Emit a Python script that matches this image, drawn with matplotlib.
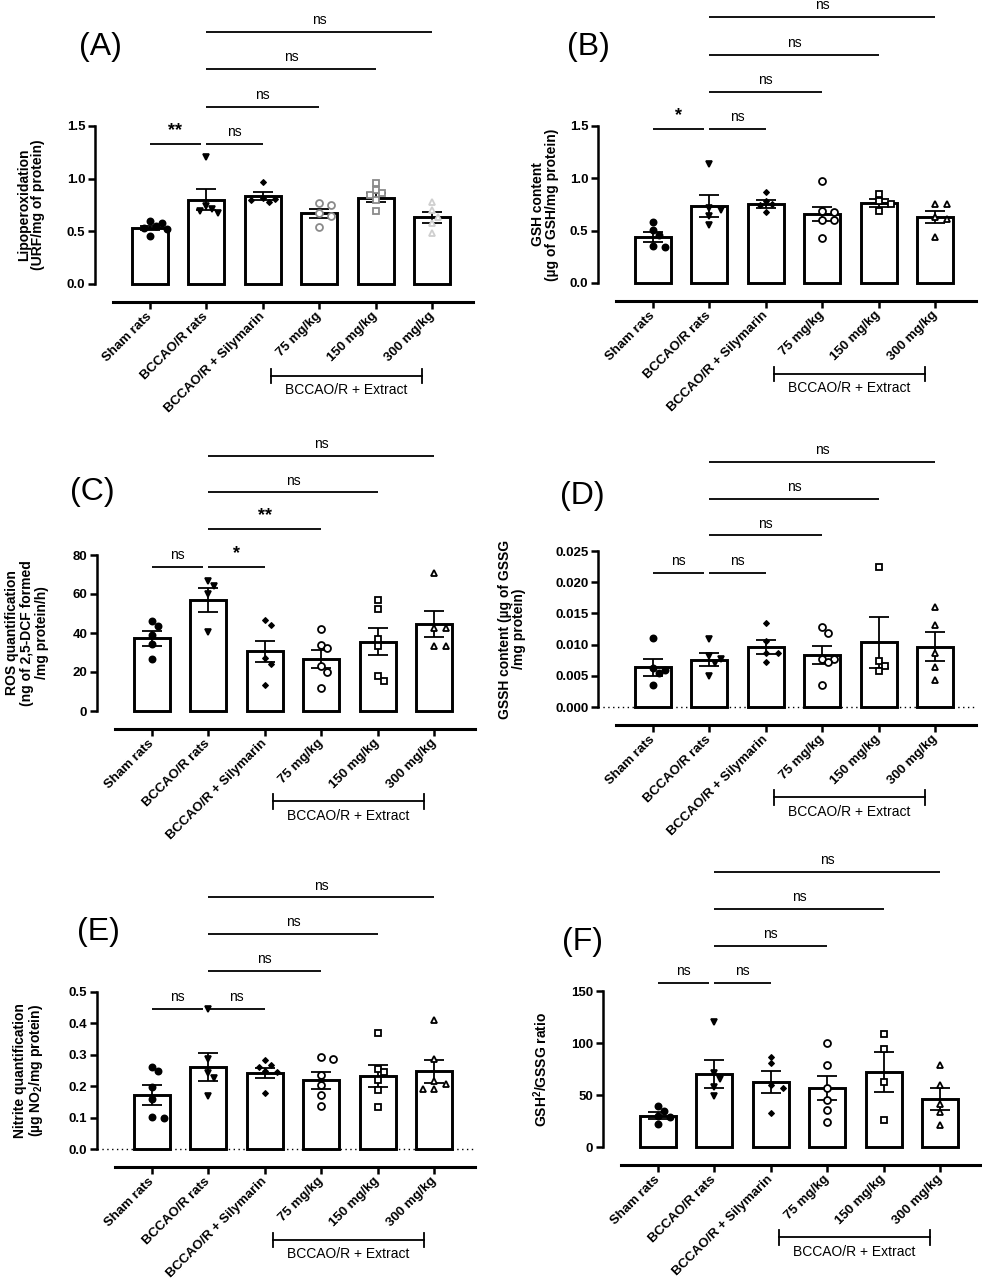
import matplotlib
matplotlib.use("Agg")
import matplotlib.pyplot as plt
import matplotlib.transforms as mtransforms
from matplotlib.ticker import FormatStrFormatter
import numpy as np

plt.rcParams['font.family'] = ['Liberation Sans', 'DejaVu Sans']
plt.rcParams['mathtext.fontset'] = 'custom'
plt.rcParams['mathtext.rm'] = 'Liberation Sans'
plt.rcParams['mathtext.bf'] = 'Liberation Sans:bold'

groups = ['Sham rats', 'BCCAO/R rats', 'BCCAO/R + Silymarin',
          '75 mg/kg', '150 mg/kg', '300 mg/kg']

# (A) lipoperoxidation
A_mean = [0.535, 0.80, 0.835, 0.67, 0.82, 0.633]
A_sem = [0.02, 0.10, 0.035, 0.04, 0.04, 0.055]
A_pts = [[0.60, 0.58, 0.55, 0.53, 0.52, 0.46],
         [1.21, 0.74, 0.71, 0.69, 0.67],
         [0.97, 0.82, 0.81, 0.80, 0.775],
         [0.765, 0.75, 0.67, 0.645, 0.54],
         [0.96, 0.89, 0.86, 0.845, 0.80, 0.69],
         [0.78, 0.70, 0.64, 0.58, 0.48]]

# (B) GSH content
B_mean = [0.44, 0.735, 0.755, 0.66, 0.765, 0.63]
B_sem = [0.05, 0.105, 0.035, 0.07, 0.04, 0.055]
B_pts = [[0.58, 0.51, 0.46, 0.35, 0.34],
         [1.14, 0.72, 0.70, 0.64, 0.55],
         [0.87, 0.78, 0.75, 0.745, 0.68],
         [0.975, 0.69, 0.68, 0.60, 0.60, 0.43],
         [0.85, 0.78, 0.755, 0.69],
         [0.75, 0.75, 0.635, 0.61, 0.44]]

# (C) ROS
C_mean = [37.3, 56.9, 30.6, 26.7, 35.6, 44.6]
C_sem = [3.9, 6.3, 5.5, 4.6, 7.1, 6.9]
C_pts = [[46, 43.8, 39, 34.4, 26.7],
         [66.8, 64.3, 60, 40.5],
         [46.7, 44.1, 27, 24, 13.3],
         [41.9, 33.8, 32.1, 23.2, 20.2, 12],
         [56.9, 52.1, 36.9, 33.3, 17.9, 15.5],
         [70.6, 42.7, 42.4, 33.3, 33.3]]

# (D) GSSH content
D_mean = [0.00634, 0.00757, 0.00965, 0.00837, 0.0104, 0.00965]
D_sem = [0.0013, 0.00105, 0.0011, 0.00145, 0.0041, 0.00235]
D_pts = [[0.0111, 0.0063, 0.0060, 0.0054, 0.0036],
         [0.0109, 0.0081, 0.0077, 0.0071, 0.0049],
         [0.0135, 0.0105, 0.0086, 0.0086, 0.0072],
         [0.0128, 0.0118, 0.0077, 0.0077, 0.0072, 0.0035],
         [0.0225, 0.0073, 0.0065, 0.0058],
         [0.0160, 0.0131, 0.0086, 0.0064, 0.0043]]

# (E) nitrite
E_mean = [0.172, 0.261, 0.242, 0.219, 0.231, 0.248]
E_sem = [0.032, 0.044, 0.016, 0.027, 0.035, 0.037]
E_pts = [[0.261, 0.25, 0.196, 0.159, 0.102, 0.098],
         [0.447, 0.288, 0.242, 0.226, 0.168],
         [0.285, 0.268, 0.26, 0.25, 0.245, 0.178],
         [0.292, 0.288, 0.237, 0.205, 0.173, 0.138],
         [0.369, 0.256, 0.245, 0.221, 0.189, 0.134],
         [0.41, 0.288, 0.215, 0.207, 0.191, 0.191]]

# (F) GSH2/GSSG ratio
F_mean = [30.1, 70.4, 62.4, 56.6, 72.0, 46.4]
F_sem = [3.2, 13.4, 10.2, 11.8, 19.5, 10.8]
F_pts = [[39, 34.2, 29.4, 28.5, 22.4],
         [119.9, 71, 65.2, 57.6, 48.6],
         [87, 80.6, 59.2, 56.6, 32.6],
         [99.8, 78.7, 56.6, 45.4, 35.8, 23.7],
         [108.7, 94.3, 62.7, 26.2],
         [79, 59.8, 41.3, 33.3, 20.8]]

# significance brackets: short = sham-bcc, bcc-sil; long = bcc vs each dose
A_short = [1.33, '**', 'ns']
A_long = [(1.684, 'ns'), (2.038, 'ns'), (2.389, 'ns')]
B_short = [1.471, '*', 'ns']
B_long = [(1.827, 'ns'), (2.183, 'ns'), (2.542, 'ns')]
C_short = [74.0, 'ns', '*']
C_long = [(93.3, '**'), (112.1, 'ns'), (130.9, 'ns')]
D_short = [0.0215, 'ns', 'ns']
D_long = [(0.0275, 'ns'), (0.0333, 'ns'), (0.0393, 'ns')]
E_short = [0.447, 'ns', 'ns']
E_long = [(0.568, 'ns'), (0.685, 'ns'), (0.801, 'ns')]
F_short = [157.7, 'ns', 'ns']
F_long = [(193.2, 'ns'), (228.7, 'ns'), (264.5, 'ns')]

W, H = 982, 1284
fig = plt.figure(figsize=(W / 100, H / 100), dpi=100)

AX_W = 378
XL = (-0.97, 5.72)
SPACING = AX_W / (XL[1] - XL[0])

markers = ['o', 'v', 'D', 'o', 's', '^']
msizes = [4.5, 4.8, 3.0, 5, 5, 5]
mews = [1.2, 1.2, 0.8, 1.3, 1.3, 1.3]
filled = [True, True, True, False, False, False]


def swarm(vals, ymax, h_px, diam=6.5):
    placed = []
    xs = []
    for v in vals:
        yp = v / ymax * h_px
        for k in [0, 1, -1, 2, -2, 3, -3, 4, -4]:
            xo = k * diam * 0.9
            if all((xo - a) ** 2 + (yp - b) ** 2 >= diam ** 2 for a, b in placed):
                break
        placed.append((xo, yp))
        xs.append(xo / SPACING)
    return xs


def panel(left, top, bottom, mean, sem, pts, ymax, yticks, fmt, ylabel, lab_off,
          letter, letter_xy, short, long, colors=None, zero_line=False):
    ax = fig.add_axes([left / W, 1 - bottom / H, AX_W / W, (bottom - top) / H])
    h_px = bottom - top
    x = np.arange(len(groups))
    ax.bar(x, mean, width=0.64, color='white', edgecolor='black', linewidth=2.1,
           zorder=2, clip_on=False)
    ax.errorbar(x, mean, yerr=sem, fmt='none', ecolor='black', elinewidth=1.3,
                capsize=7, capthick=1.3, zorder=4)
    if colors is None:
        colors = ['black'] * 6
    for i, vals in enumerate(pts):
        offs = swarm(vals, ymax, h_px)
        ax.plot(i + np.array(offs), vals, linestyle='none', marker=markers[i],
                ms=msizes[i], mec=colors[i], mew=mews[i],
                mfc=colors[i] if filled[i] else 'white', zorder=5, clip_on=False)
    if zero_line:
        ax.axhline(0, color='black', lw=1.0, ls=(0, (1, 2.5)), zorder=1, clip_on=False)

    for s in ['top', 'right']:
        ax.spines[s].set_visible(False)
    ax.spines['left'].set_linewidth(1.8)
    ax.spines['bottom'].set_linewidth(2.2)
    ax.spines['bottom'].set_position(('outward', 13))
    ax.spines['bottom'].set_bounds(-0.66, XL[1])

    ax.set_xlim(*XL)
    ax.set_ylim(0, ymax)
    ax.set_yticks(yticks)
    ax.yaxis.set_major_formatter(FormatStrFormatter(fmt))
    ax.set_xticks(x)
    ax.set_xticklabels(groups, rotation=45, ha='right', va='center',
                       rotation_mode='anchor', fontweight='bold', fontsize=9.5)
    for t in ax.get_yticklabels():
        t.set_fontweight('bold')
        t.set_fontsize(9.5)
    ax.tick_params(axis='y', width=1.8, length=5, pad=2)
    ax.tick_params(axis='x', width=1.8, length=5, pad=4)

    ax.text(-lab_off / AX_W, 0.5, ylabel, transform=ax.transAxes, rotation=90,
            ha='center', va='center', fontsize=10, fontweight='bold',
            linespacing=1.05)
    fig.text(letter_xy[0] / W, 1 - letter_xy[1] / H, letter, fontsize=23,
             ha='center', va='center')

    # significance brackets
    def bracket(x0, x1, y, lab):
        ax.plot([x0, x1], [y, y], color='black', lw=1.3, clip_on=False,
                solid_capstyle='butt')
        ax.annotate(lab, ((x0 + x1) / 2, y), xytext=(0, 3.5),
                    textcoords='offset points', ha='center', va='bottom',
                    fontsize=10 if lab == 'ns' else 13,
                    fontweight='normal' if lab == 'ns' else 'bold',
                    annotation_clip=False)
    bracket(0, 0.9, short[0], short[1])
    bracket(1.0, 2.0, short[0], short[2])
    for k, (y, lab) in enumerate(long):
        bracket(1.0, 3 + k, y, lab)

    # extract group bracket below the labels
    tr = mtransforms.blended_transform_factory(ax.transData, ax.transAxes)
    ax.plot([2.14, 4.82], [-0.58, -0.58], color='black', lw=1.3, transform=tr,
            clip_on=False)
    for xe in (2.14, 4.82):
        ax.plot([xe, xe], [-0.535, -0.625], color='black', lw=1.3,
                transform=tr, clip_on=False)
    ax.text(3.48, -0.67, 'BCCAO/R + Extract', transform=tr, ha='center',
            va='center', fontsize=10)
    return ax


grayA = ['black', 'black', 'black', '#8a8a8a', '#8a8a8a', '#cfcfcf']

panel(95, 126, 284, A_mean, A_sem, A_pts, 1.5, [0, 0.5, 1.0, 1.5], '%.1f',
      'Lipoperoxidation\n(URF/mg of protein)', 64, '(A)', (100, 47),
      A_short, A_long, colors=grayA)
panel(598, 126, 283, B_mean, B_sem, B_pts, 1.5, [0, 0.5, 1.0, 1.5], '%.1f',
      'GSH content\n(µg of GSH/mg protein)', 53, '(B)', (588, 47),
      B_short, B_long)
panel(97, 555, 711, C_mean, C_sem, C_pts, 80, [0, 20, 40, 60, 80], '%d',
      'ROS quantification\n(ng of 2,5-DCF formed\n/mg protein/h)', 70, '(C)',
      (92, 492), C_short, C_long)
panel(598, 551, 707, D_mean, D_sem, D_pts, 0.025,
      [0, 0.005, 0.010, 0.015, 0.020, 0.025], '%.3f',
      'GSSH content (µg of GSSG\n/mg protein)', 86, '(D)', (582, 496),
      D_short, D_long, zero_line=True)
panel(97, 992, 1149, E_mean, E_sem, E_pts, 0.5, [0, 0.1, 0.2, 0.3, 0.4, 0.5],
      '%.1f', 'Nitrite quantification\n(µg NO$_\\mathbf{2}$/mg protein)', 68,
      '(E)', (98, 932), E_short, E_long, zero_line=True)
panel(603, 991, 1147, F_mean, F_sem, F_pts, 150, [0, 50, 100, 150], '%d',
      'GSH$^\\mathbf{2}$/GSSG ratio', 62, '(F)', (582, 942), F_short, F_long)

fig.savefig('out.png', dpi=100, facecolor='white')
